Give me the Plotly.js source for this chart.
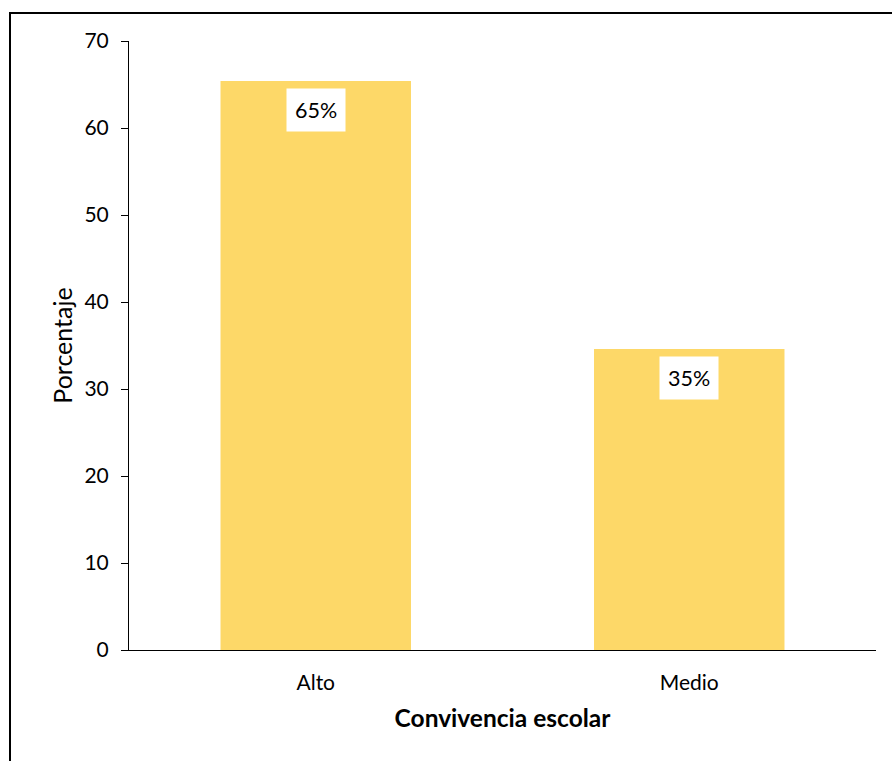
<!DOCTYPE html>
<html>
<head>
<meta charset="utf-8">
<script src="https://cdn.plot.ly/plotly-3.0.1.min.js"></script>
<style>
  html, body { margin: 0; padding: 0; background: #fff; }
  #wrap { position: relative; width: 892px; height: 761px; }
  #chart { position: absolute; left: 0; top: 0; width: 892px; height: 761px; }
  #frame { position: absolute; left: 9px; top: 12px; width: 883px; height: 749px;
           border-left: 2px solid #000; border-top: 2px solid #000; box-sizing: border-box; pointer-events: none; }
</style>
</head>
<body>
<div id="wrap">
  <div id="chart"></div>
  <div id="frame"></div>
</div>
<script>
const categories = ["Alto", "Medio"];
const values = [65.4, 34.6];
const labels = ["65%", "35%"];
const yTicks = [0, 10, 20, 30, 40, 50, 60, 70];

const FONT = "Lato, 'Open Sans', sans-serif";

const trace = {
  type: "bar",
  x: categories,
  y: values,
  marker: { color: "#FDD868", line: { width: 0 } },
  hoverinfo: "none"
};

const annotations = categories.map((c, i) => ({
  x: c,
  y: values[i],
  xref: "x",
  yref: "y",
  text: labels[i],
  showarrow: false,
  yshift: -29,
  bgcolor: "#ffffff",
  borderpad: 8,
  font: { family: FONT, size: 21.5, color: "#000" }
}));

const layout = {
  width: 892,
  height: 761,
  margin: { l: 129, r: 16, t: 41, b: 111 },
  paper_bgcolor: "#ffffff",
  plot_bgcolor: "#ffffff",
  showlegend: false,
  bargap: 0.49,
  font: { family: FONT, size: 21, color: "#000" },
  xaxis: {
    type: "category",
    showline: true,
    linecolor: "#000",
    linewidth: 1,
    ticks: "",
    showgrid: false,
    zeroline: false,
    ticklabelstandoff: 14,
    tickfont: { family: FONT, size: 21, color: "#000" },
    title: { text: "<b>Convivencia escolar</b>", font: { family: FONT, size: 24.5, color: "#000" }, standoff: 16 }
  },
  yaxis: {
    range: [0, 70],
    tickvals: yTicks,
    ticktext: yTicks.map(String),
    showline: true,
    linecolor: "#000",
    linewidth: 1,
    ticks: "outside",
    ticklen: 7,
    tickcolor: "#000",
    showgrid: false,
    zeroline: false,
    ticklabelstandoff: 8,
    tickfont: { family: FONT, size: 21, color: "#000" },
    title: { text: "Porcentaje", font: { family: FONT, size: 25, color: "#000" }, standoff: 4 }
  },
  annotations: annotations
};

Plotly.newPlot("chart", [trace], layout, { displayModeBar: false, staticPlot: true });
</script>
</body>
</html>
